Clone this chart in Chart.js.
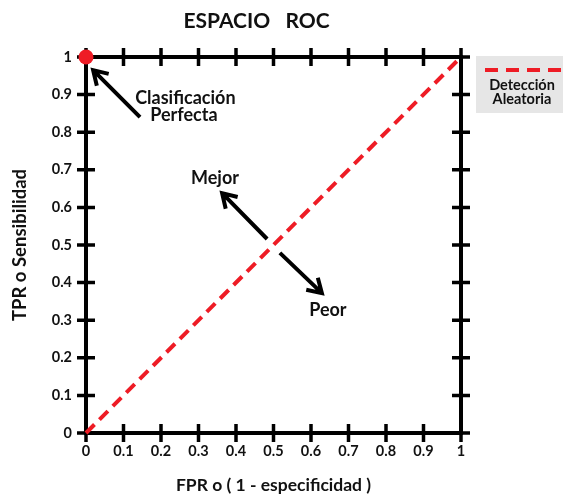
<!DOCTYPE html>
<html>
<head>
<meta charset="utf-8">
<script src="https://cdn.jsdelivr.net/npm/chart.js@4/dist/chart.umd.min.js"></script>
<style>
  html, body { margin: 0; padding: 0; background: #fff; }
  #wrap { width: 563px; height: 496px; }
</style>
</head>
<body>
<div id="wrap"><canvas id="rocChart"></canvas></div>
<script>
// datos del espacio ROC
var tickValues = [0, 0.1, 0.2, 0.3, 0.4, 0.5, 0.6, 0.7, 0.8, 0.9, 1];
var azarX = [0, 1];
var azarY = [0, 1];
var perfectoX = [0];
var perfectoY = [1];

// notas sobre el grafico (en unidades de los ejes)
var notasTexto = ['Clasificación', 'Perfecta', 'Mejor', 'Peor'];
var notasX = [0.265, 0.261, 0.344, 0.645];
var notasY = [0.891, 0.845, 0.678, 0.327];
var flechasDesde = [[0.144, 0.840], [0.483, 0.516], [0.517, 0.479]];
var flechasHasta = [[0.019, 0.965], [0.363, 0.638], [0.629, 0.372]];

var titulo = 'ESPACIO   ROC';
var leyenda = ['Detección', 'Aleatoria'];

var rojo = '#ee1c25';
var negro = '#111111';
var fuente = 'Lato, "Open Sans", sans-serif';

function flecha(ctx, x1, y1, x2, y2) {
    var ang = Math.atan2(y2 - y1, x2 - x1);
    var largo = 16;
    ctx.beginPath();
    ctx.moveTo(x1, y1);
    ctx.lineTo(x2, y2);
    ctx.moveTo(x2 - largo * Math.cos(ang - 0.55), y2 - largo * Math.sin(ang - 0.55));
    ctx.lineTo(x2, y2);
    ctx.lineTo(x2 - largo * Math.cos(ang + 0.55), y2 - largo * Math.sin(ang + 0.55));
    ctx.stroke();
}

var marcoPlugin = {
    id: 'marco',
    beforeDatasetsDraw: function (chart) {
        var ctx = chart.ctx;
        var a = chart.chartArea;
        var sx = chart.scales.x, sy = chart.scales.y;
        ctx.save();
        ctx.strokeStyle = '#000';
        ctx.lineWidth = 4;
        ctx.strokeRect(a.left, a.top, a.right - a.left, a.bottom - a.top);
        ctx.lineWidth = 3.5;
        ctx.beginPath();
        tickValues.forEach(function (v) {
            var px = sx.getPixelForValue(v);
            var py = sy.getPixelForValue(v);
            ctx.moveTo(px, a.top - 9); ctx.lineTo(px, a.top + 9);
            ctx.moveTo(px, a.bottom - 9); ctx.lineTo(px, a.bottom + 9);
            ctx.moveTo(a.left - 9, py); ctx.lineTo(a.left + 9, py);
            ctx.moveTo(a.right - 9, py); ctx.lineTo(a.right + 9, py);
        });
        ctx.stroke();
        ctx.restore();
    },
    afterDraw: function (chart) {
        var ctx = chart.ctx;
        var a = chart.chartArea;
        var sx = chart.scales.x, sy = chart.scales.y;
        ctx.save();
        // titulo
        ctx.fillStyle = negro;
        ctx.font = 'bold 21px ' + fuente;
        ctx.textAlign = 'center';
        ctx.textBaseline = 'middle';
        ctx.fillText(titulo, (a.left + a.right) / 2 - 17, 21);

        // flechas
        ctx.strokeStyle = '#000';
        ctx.lineWidth = 4;
        ctx.lineCap = 'butt';
        for (var i = 0; i < flechasDesde.length; i++) {
            flecha(ctx,
                sx.getPixelForValue(flechasDesde[i][0]), sy.getPixelForValue(flechasDesde[i][1]),
                sx.getPixelForValue(flechasHasta[i][0]), sy.getPixelForValue(flechasHasta[i][1]));
        }

        // notas
        ctx.font = 'bold 18px ' + fuente;
        ctx.fillStyle = negro;
        for (var j = 0; j < notasTexto.length; j++) {
            ctx.fillText(notasTexto[j], sx.getPixelForValue(notasX[j]), sy.getPixelForValue(notasY[j]));
        }

        // leyenda
        var lx = a.right + 15;
        ctx.fillStyle = '#e6e6e6';
        ctx.fillRect(lx, a.top - 1, chart.width - lx, 57);
        ctx.strokeStyle = rojo;
        ctx.lineWidth = 4;
        ctx.setLineDash([13, 8]);
        ctx.beginPath();
        ctx.moveTo(lx + 9, a.top + 13);
        ctx.lineTo(chart.width, a.top + 13);
        ctx.stroke();
        ctx.setLineDash([]);
        ctx.fillStyle = negro;
        ctx.font = 'bold 14.5px ' + fuente;
        ctx.fillText(leyenda[0], lx + 46, a.top + 28);
        ctx.fillText(leyenda[1], lx + 46, a.top + 42);
        ctx.restore();
    }
};

var ctx = document.getElementById('rocChart').getContext('2d');
var rocChart = new Chart(ctx, {
    type: 'scatter',
    data: {
        datasets: [{
            type: 'line',
            label: leyenda.join(' '),
            data: azarX.map(function (x, i) { return { x: x, y: azarY[i] }; }),
            borderColor: rojo,
            borderWidth: 4,
            borderDash: [12, 7],
            pointRadius: 0,
            clip: false,
            order: 2
        }, {
            label: 'Clasificación Perfecta',
            data: perfectoX.map(function (x, i) { return { x: x, y: perfectoY[i] }; }),
            backgroundColor: rojo,
            borderWidth: 0,
            pointRadius: 7.5,
            clip: false,
            order: 1
        }]
    },
    options: {
        responsive: true,
        maintainAspectRatio: false,
        animation: false,
        layout: { padding: { top: 57, right: 102, left: 0, bottom: 0 } },
        plugins: {
            legend: { display: false },
            tooltip: { enabled: false },
            title: { display: false }
        },
        scales: {
            x: {
                type: 'linear',
                min: 0,
                max: 1,
                afterFit: function (s) { s.height = 63; },
                afterBuildTicks: function (s) { s.ticks = tickValues.map(function (v) { return { value: v }; }); },
                grid: { display: false, drawTicks: false },
                border: { display: false },
                ticks: {
                    padding: 10,
                    color: negro,
                    font: { family: fuente, size: 14.5, weight: 'bold' },
                    maxRotation: 0,
                    callback: function (v) { return String(Number(v.toFixed(1))); }
                },
                title: {
                    display: true,
                    text: 'FPR o ( 1 - especificidad )',
                    color: negro,
                    font: { family: fuente, size: 17.5, weight: 'bold' },
                    padding: { top: 0, bottom: 0 }
                }
            },
            y: {
                type: 'linear',
                min: 0,
                max: 1,
                afterFit: function (s) { s.width = 86; },
                afterBuildTicks: function (s) { s.ticks = tickValues.map(function (v) { return { value: v }; }); },
                grid: { display: false, drawTicks: false },
                border: { display: false },
                ticks: {
                    padding: 14,
                    color: negro,
                    font: { family: fuente, size: 14.5, weight: 'bold' },
                    callback: function (v) { return String(Number(v.toFixed(1))); }
                },
                title: {
                    display: true,
                    text: 'TPR o Sensibilidad',
                    color: negro,
                    font: { family: fuente, size: 18.5, weight: 'bold' },
                    padding: { top: 9, bottom: 0 }
                }
            }
        }
    },
    plugins: [marcoPlugin]
});
</script>
</body>
</html>
